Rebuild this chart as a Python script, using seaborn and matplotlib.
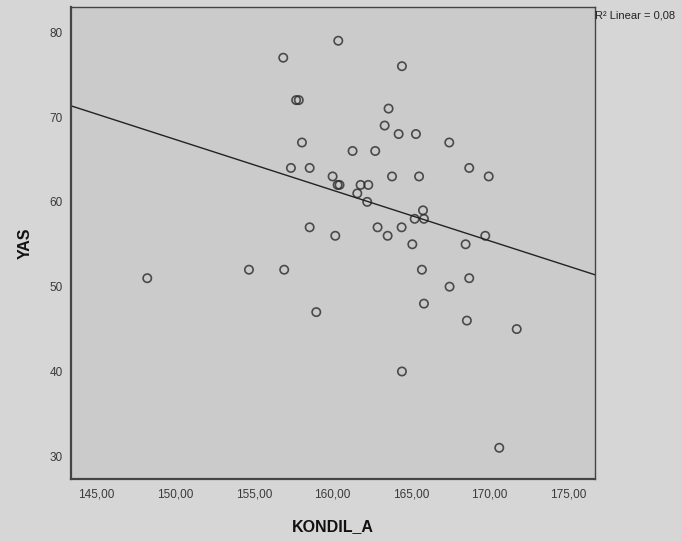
import numpy as np
import pandas as pd
import matplotlib
matplotlib.use("Agg")
import matplotlib.pyplot as plt
import seaborn as sns

# values
kondil_a = [148.22, 154.69, 156.93, 156.87, 160.37, 157.69, 157.86, 158.06, 157.36, 158.55,
            160.01, 160.33, 160.45, 158.55, 160.18, 158.97, 164.42, 163.57, 163.32, 164.21,
            165.31, 167.43, 161.28, 162.72, 168.70, 169.94, 163.79, 165.51, 161.79, 162.28,
            161.58, 162.21, 165.76, 165.23, 165.82, 162.87, 164.40, 163.51, 169.72, 165.08,
            168.47, 165.69, 168.70, 167.45, 165.82, 168.55, 171.72, 164.42, 170.61]
yas = [51, 52, 52, 77, 79, 72, 72, 67, 64, 64,
       63, 62, 62, 57, 56, 47, 76, 71, 69, 68,
       68, 67, 66, 66, 64, 63, 63, 63, 62, 62,
       61, 60, 59, 58, 58, 57, 57, 56, 56, 55,
       55, 52, 51, 50, 48, 46, 45, 40, 31]
x_ticks = [145, 150, 155, 160, 165, 170, 175]
y_ticks = [30, 40, 50, 60, 70, 80]
r2_label = "R\u00b2 Linear = 0,08"

df = pd.DataFrame({"KONDIL_A": kondil_a, "YAS": yas})

sns.set_style("white")
plt.rcParams['font.family'] = ['Liberation Sans', 'DejaVu Sans']

fig = plt.figure(figsize=(6.81, 5.41), dpi=100, facecolor='#d6d6d6')
ax = fig.add_axes([71/681, 1 - 479/541, 524/681, 472/541])
ax.set_facecolor('#cbcbcb')

# limits first so the fit line runs edge to edge
ax.set_xlim(143.37, 176.70)
ax.set_ylim(27.32, 82.98)

sns.regplot(data=df, x="KONDIL_A", y="YAS", ax=ax, ci=None, truncate=False,
            scatter_kws=dict(s=36, facecolors='none', edgecolors='#2a2a2a', linewidths=1.2),
            line_kws=dict(color='#222222', lw=1.0))

ax.set_xticks(x_ticks)
ax.set_xticklabels([f"{t:.2f}".replace('.', ',') for t in x_ticks])
ax.set_yticks(y_ticks)
ax.set_yticklabels([str(t) for t in y_ticks])
ax.tick_params(axis='both', direction='out', length=4.5, width=1, color='#333333',
               labelsize=8.5, labelcolor='#3a3a3a', pad=1.5)
ax.tick_params(axis='x', length=5, pad=2)

for side, sp in ax.spines.items():
    sp.set_visible(True)
    sp.set_color('#444444')
    sp.set_linewidth(1.6 if side in ('left', 'bottom') else 1.0)

ax.set_xlabel("KONDIL_A", fontsize=11.5, fontweight='bold', color='#111111')
ax.set_ylabel("YAS", fontsize=11.5, fontweight='bold', color='#111111')
ax.xaxis.set_label_coords((333 - 71) / 524, -(519 - 479) / 472)
ax.yaxis.set_label_coords(-(71 - 33) / 524, (479 - 243) / 472)

fig.text(595/681, 1 - 16/541, r2_label, fontsize=8, color='#222222', va='center', ha='left')

fig.savefig("out.png", dpi=100, facecolor=fig.get_facecolor())
